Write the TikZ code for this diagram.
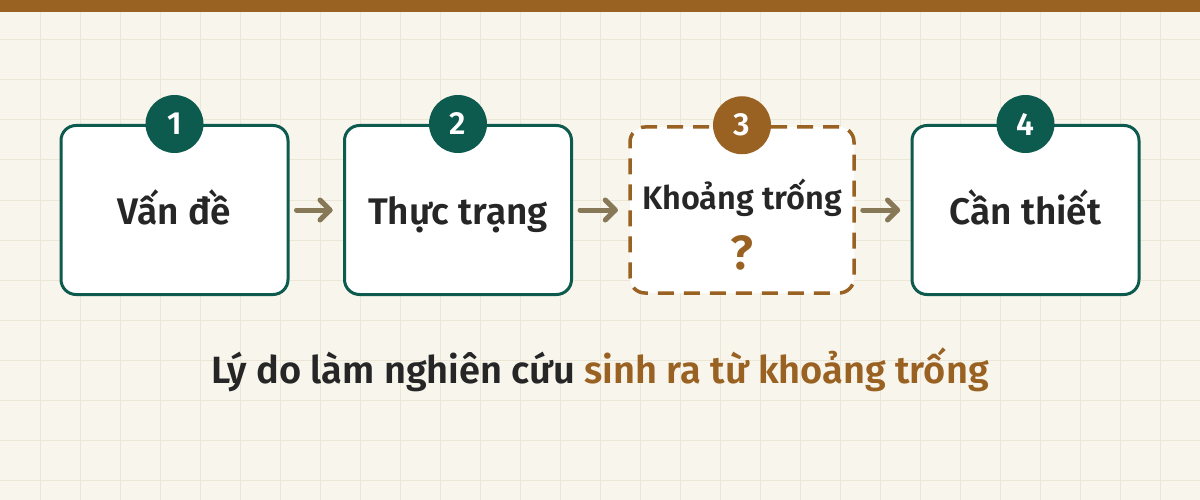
\documentclass[tikz,border=0pt]{standalone}
\usepackage{fontspec}
\setmainfont{Fira Sans}[BoldFont={Fira Sans SemiBold}]
\definecolor{deepteal}{HTML}{0D5A4E}
\definecolor{gapbrown}{HTML}{9A6222}
\definecolor{arrowgrey}{HTML}{877858}
\definecolor{paper}{HTML}{F8F5EC}
\definecolor{gridline}{HTML}{ECE6D7}
\definecolor{inkdark}{HTML}{262626}
\begin{document}
\begin{tikzpicture}[x=1pt,y=-1pt,
  stepbox/.style={draw=deepteal,line width=3pt,fill=white,rounded corners=15pt,minimum width=227pt,minimum height=169pt},
  gapbox/.style={draw=gapbrown,line width=3.5pt,dash pattern=on 16pt off 10pt,fill=white,rounded corners=15pt,minimum width=224pt,minimum height=166pt},
  badge/.style={circle,fill=deepteal,minimum size=58pt,inner sep=0pt,text=white,font=\fontsize{32}{32}\selectfont\bfseries},
  title/.style={anchor=base,text=inkdark,font=\fontsize{37}{40}\selectfont\bfseries},
  flow/.style={line width=5pt,draw=arrowgrey,line cap=round,line join=round}]
\useasboundingbox (0,0) rectangle (1200,500);
\fill[paper] (0,0) rectangle (1200,500);
\foreach \gx in {40,80,...,1160} \draw[gridline,line width=1pt] (\gx,0) -- (\gx,500);
\foreach \gy in {40,80,...,480} \draw[gridline,line width=1pt] (0,\gy) -- (1200,\gy);
\fill[gapbrown] (0,0) rectangle (1200,12);

\node[stepbox] (b1) at (174.5,210){};
\node[stepbox] (b2) at (458,210){};
\node[gapbox] (b3) at (742,210){};
\node[stepbox] (b4) at (1025.5,210){};

\node[badge] (n1) at (b1.north){1};
\node[badge] (n2) at (b2.north){2};
\node[badge,fill=gapbrown] (n3) at (b3.north){3};
\node[badge] (n4) at (b4.north){4};

\node[title] (t1) at (174.5,225){Vấn đề};
\node[title] (t2) at (458,225){Thực trạng};
\node[title,font=\fontsize{32.5}{36}\selectfont\bfseries] (t3) at (742,209){Khoảng trống};
\node[title,text=gapbrown,font=\fontsize{48}{50}\selectfont\bfseries] (q3) at (742,269){?};
\node[title] (t4) at (1025.5,225){Cần thiết};

\foreach \i/\j in {1/2,2/3,3/4}{
  \coordinate (s\i) at ([xshift=7pt]b\i.east);
  \coordinate (e\i) at ([xshift=-13pt]b\j.west);
  \draw[flow] (s\i) -- (e\i);
  \draw[flow] ([shift={(-10pt,-10pt)}]e\i) -- (e\i) -- ([shift={(-10pt,10pt)}]e\i);
}

\node[title,font=\fontsize{38}{40}\selectfont\bfseries] (sum) at (600,383){Lý do làm nghiên cứu \textcolor{gapbrown}{sinh ra từ khoảng trống}};
\end{tikzpicture}
\end{document}
